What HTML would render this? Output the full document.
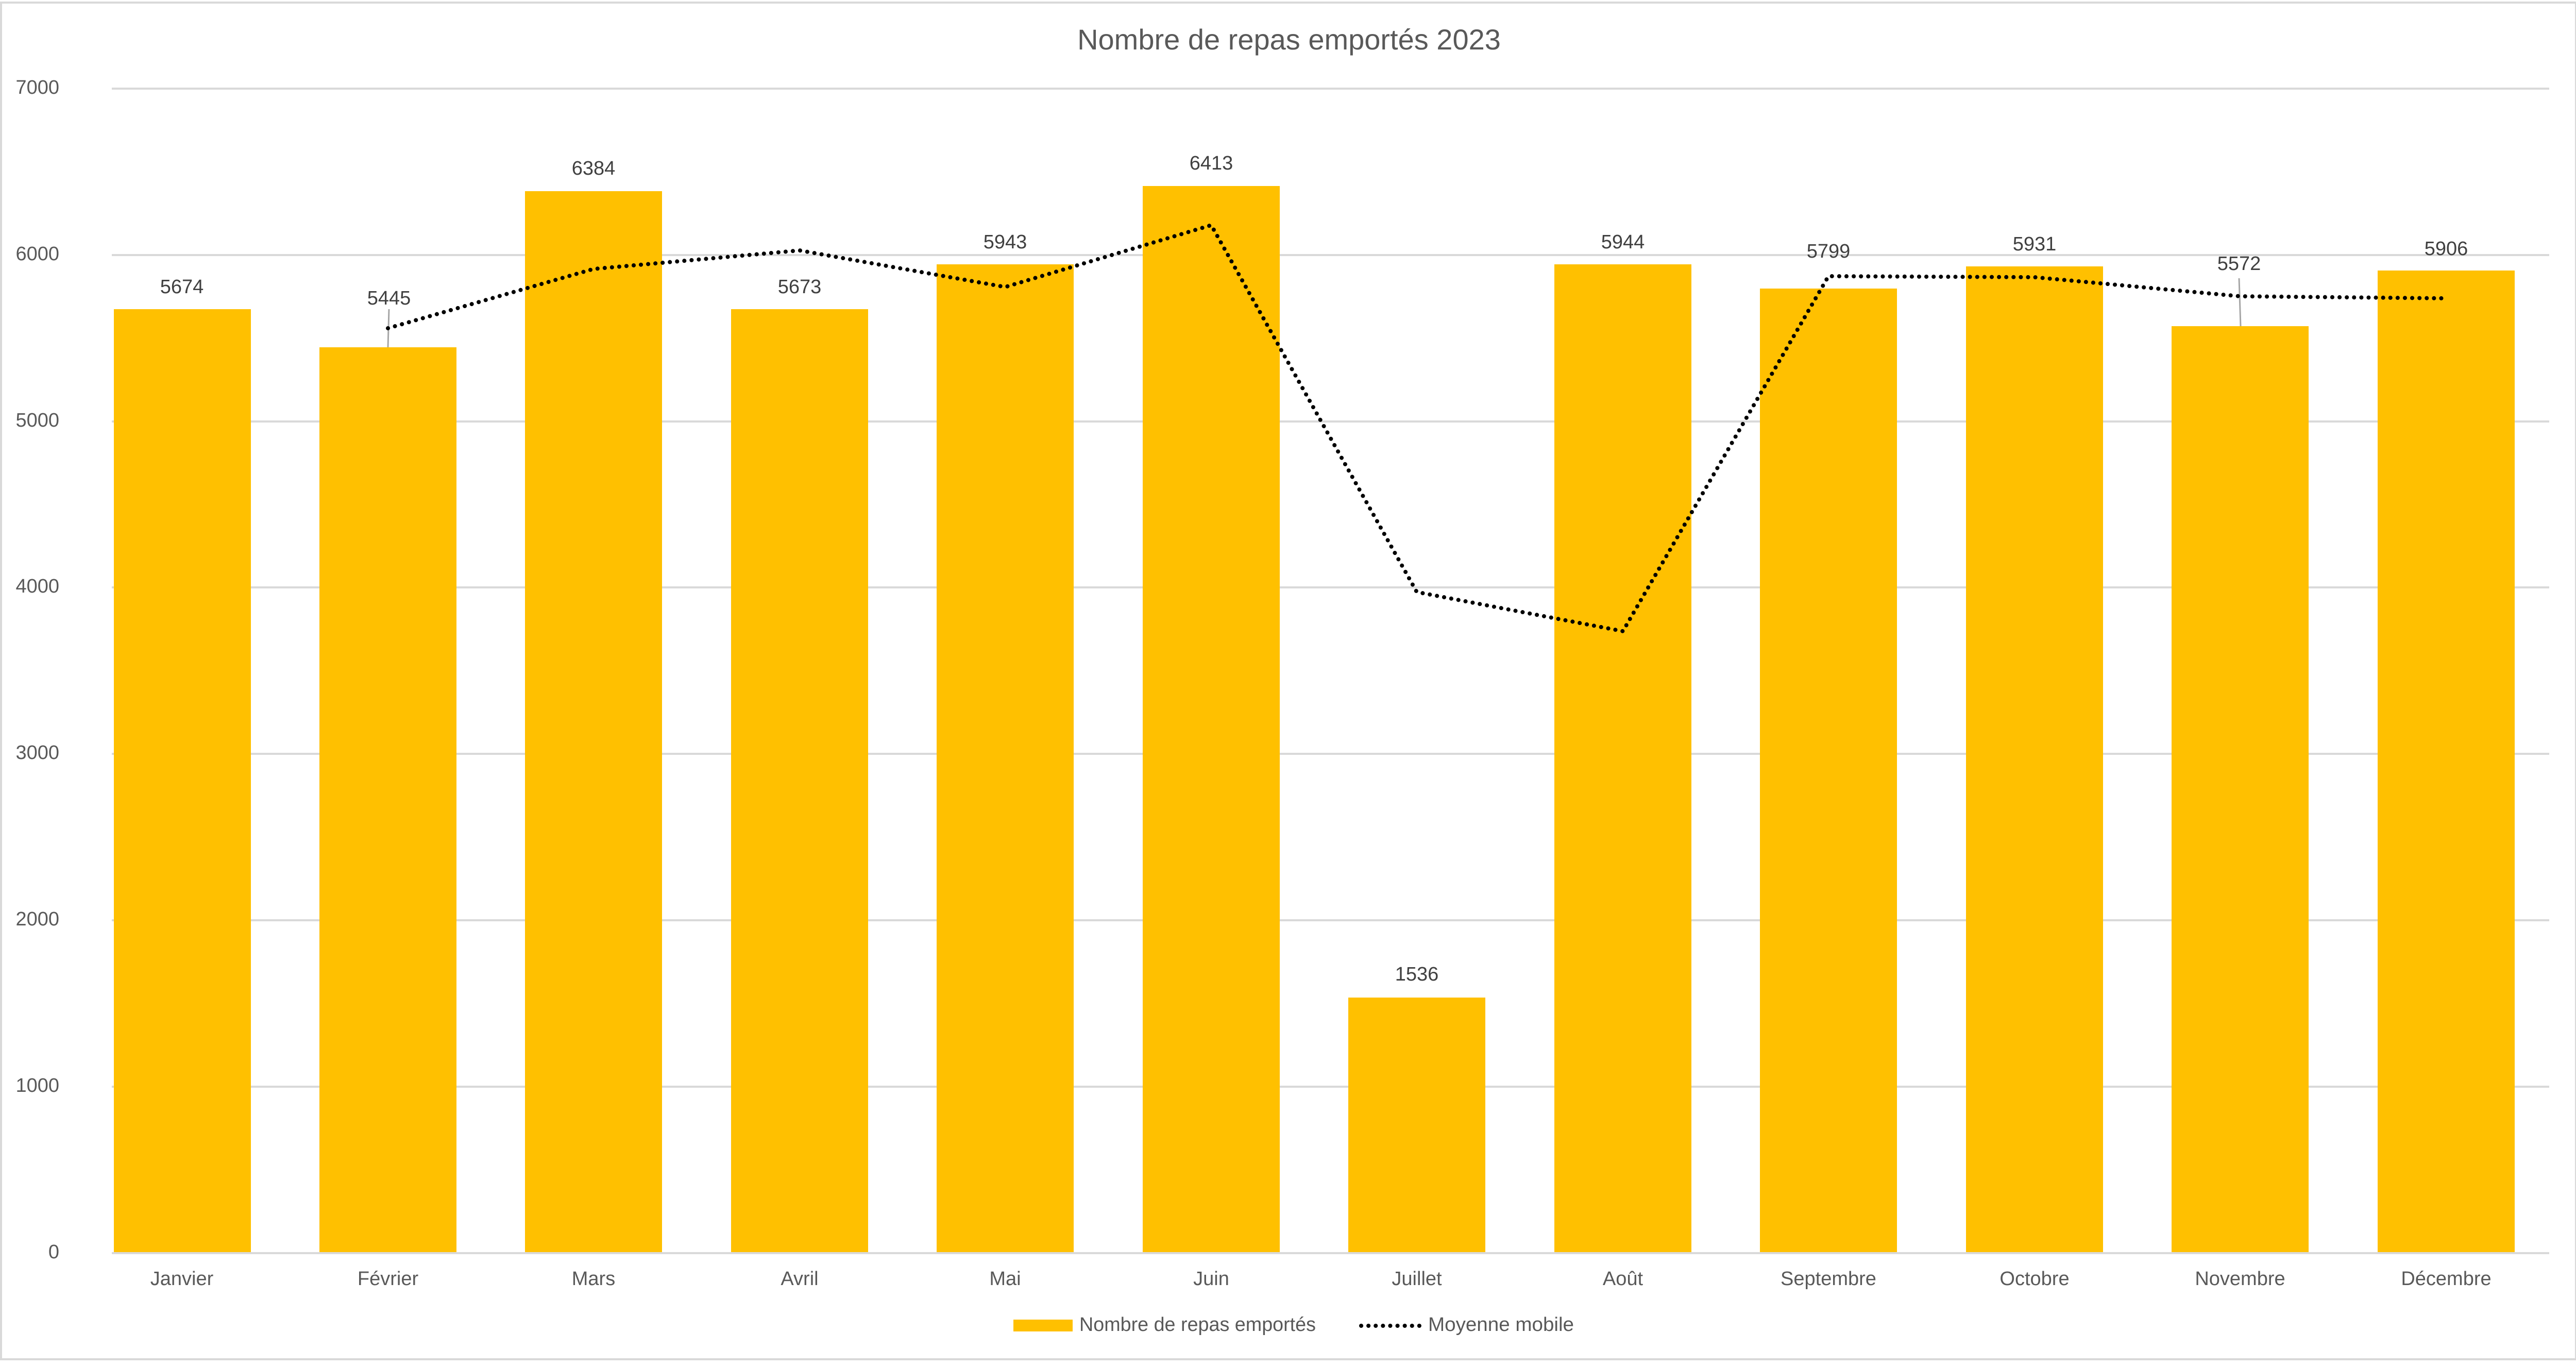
<!DOCTYPE html>
<html><head><meta charset="utf-8"><style>html,body{margin:0;padding:0;background:#fff}svg{display:block}</style></head>
<body>
<svg xmlns="http://www.w3.org/2000/svg" width="5005" height="2653" viewBox="0 0 5005 2653" font-family="'Liberation Sans', sans-serif">
<rect x="2" y="5" width="4998" height="2633" fill="#fff" stroke="#d9d9d9" stroke-width="4"/>
<text x="2502" y="96" text-anchor="middle" font-size="56" fill="#595959">Nombre de repas emportés 2023</text>
<g stroke="#d9d9d9" stroke-width="4">
<line x1="217" x2="4948" y1="172" y2="172"/><line x1="217" x2="4948" y1="495" y2="495"/>
<line x1="217" x2="4948" y1="818" y2="818"/><line x1="217" x2="4948" y1="1140" y2="1140"/>
<line x1="217" x2="4948" y1="1463" y2="1463"/><line x1="217" x2="4948" y1="1786" y2="1786"/>
<line x1="217" x2="4948" y1="2109" y2="2109"/><line x1="217" x2="4948" y1="2432" y2="2432"/>
</g>
<g font-size="38" fill="#595959" text-anchor="end" dominant-baseline="middle">
<text x="115" y="172">7000</text><text x="115" y="495">6000</text><text x="115" y="818">5000</text>
<text x="115" y="1140">4000</text><text x="115" y="1463">3000</text><text x="115" y="1786">2000</text>
<text x="115" y="2109">1000</text><text x="115" y="2432">0</text>
</g>
<g fill="#FFC000">
<rect x="221" y="600" width="266" height="1830"/>
<rect x="620" y="674" width="266" height="1756"/>
<rect x="1019" y="371" width="266" height="2059"/>
<rect x="1419" y="600" width="266" height="1830"/>
<rect x="1818" y="513" width="266" height="1917"/>
<rect x="2218" y="361" width="266" height="2069"/>
<rect x="2617" y="1936" width="266" height="494"/>
<rect x="3017" y="513" width="266" height="1917"/>
<rect x="3416" y="560" width="266" height="1870"/>
<rect x="3816" y="517" width="266" height="1913"/>
<rect x="4215" y="633" width="266" height="1797"/>
<rect x="4615" y="525" width="266" height="1905"/>
</g>
<line x1="755" y1="600" x2="753" y2="674" stroke="#a6a6a6" stroke-width="3"/>
<line x1="4346" y1="540" x2="4349" y2="633" stroke="#a6a6a6" stroke-width="3"/>
<polyline fill="none" stroke="#000" stroke-width="8" stroke-linecap="round" stroke-dasharray="0.1 14" points="753,637 1152,522 1552,486 1951,557 2351,437 2750,1149 3150,1225 3549,536 3949,538 4348,575 4748,579"/>
<g font-size="38" fill="#404040" text-anchor="middle" dominant-baseline="middle">
<text x="353" y="559">5674</text><text x="755" y="581">5445</text><text x="1152" y="329">6384</text>
<text x="1552" y="559">5673</text><text x="1951" y="472">5943</text><text x="2351" y="319">6413</text>
<text x="2750" y="1893">1536</text><text x="3150" y="472">5944</text><text x="3549" y="490">5799</text>
<text x="3949" y="476">5931</text><text x="4346" y="514">5572</text><text x="4748" y="485">5906</text>
</g>
<g font-size="38" fill="#595959" text-anchor="middle" dominant-baseline="middle">
<text x="353" y="2484">Janvier</text><text x="753" y="2484">Février</text><text x="1152" y="2484">Mars</text>
<text x="1552" y="2484">Avril</text><text x="1951" y="2484">Mai</text><text x="2351" y="2484">Juin</text>
<text x="2750" y="2484">Juillet</text><text x="3150" y="2484">Août</text><text x="3549" y="2484">Septembre</text>
<text x="3949" y="2484">Octobre</text><text x="4348" y="2484">Novembre</text><text x="4748" y="2484">Décembre</text>
</g>
<rect x="1967" y="2561" width="115" height="23" fill="#FFC000"/>
<text x="2095" y="2573" font-size="38" fill="#595959" dominant-baseline="middle" textLength="459" lengthAdjust="spacingAndGlyphs">Nombre de repas emportés</text>
<line x1="2642" y1="2573" x2="2756" y2="2573" stroke="#000" stroke-width="8" stroke-linecap="round" stroke-dasharray="0.1 14"/>
<text x="2772" y="2573" font-size="38" fill="#595959" dominant-baseline="middle" textLength="283" lengthAdjust="spacingAndGlyphs">Moyenne mobile</text>
</svg>
</body></html>
